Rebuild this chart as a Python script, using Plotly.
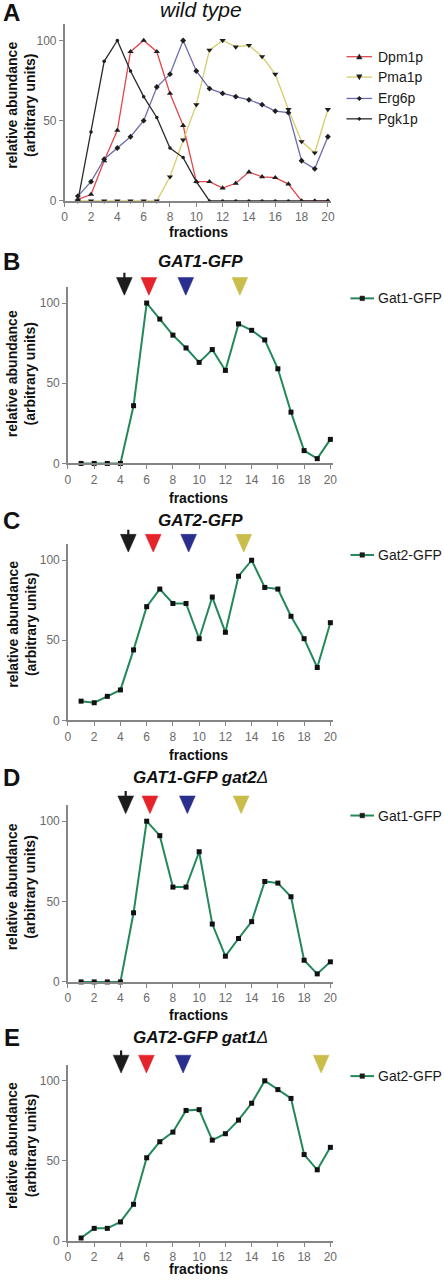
import plotly.graph_objects as go

W, H = 444, 1284

# ---------------- data ----------------
fractions = list(range(1, 21))

# panel A (wild type)
dpm1p = [1, 4, 25, 44, 93, 100, 93, 67, 47, 12, 12, 8, 11, 18, 15, 14.5, 10.5, 0, 0, 0]
pma1p = [0, 0, 0, 0, 0, 0, 0, 15, 38, 60, 94, 100, 96, 97, 90, 79, 57, 37, 30, 57]
erg6p = [3, 12, 26, 33, 40, 50, 71, 79, 100, 81, 70, 67, 65, 63, 60, 56, 55, 25, 20, 40]
pgk1p = [0, 43, 87, 100, 81, 65, 52, 33, 27, 12, 0, 0, 0, 0, 0, 0, 0, 0, 0, 0]

# panels B-E
gat1_gfp = [0, 0, 0, 0, 36, 100, 90, 80, 72, 63, 71, 58, 87, 83, 77, 59, 32, 8, 3, 15]
gat2_gfp = [12, 11, 15, 19, 44, 71, 82, 73, 73, 51, 77, 55, 90, 100, 83, 82, 65, 51, 33, 61]
gat1_gfp_gat2d = [0, 0, 0, 0, 43, 100, 91, 59, 59, 81, 36, 16, 27, 37.5, 62.5, 61.5, 53, 13.5, 5, 12.5]
gat2_gfp_gat1d = [2, 8, 8, 12, 23, 52, 62, 68, 81.5, 82, 63, 67, 75.5, 86, 100, 94.5, 89, 54, 44.5, 58.5]

# marker-protein peak arrows (fraction positions): Pgk1p, Dpm1p, Erg6p, Pma1p
arrow_names = ["Pgk1p", "Dpm1p", "Erg6p", "Pma1p"]
arrows_B = [4.3, 6.17, 8.98, 13.1]
arrows_C = [4.6, 6.5, 9.2, 13.4]
arrows_D = [4.4, 6.25, 9.1, 13.2]
arrows_E = [4.05, 5.98, 8.78, 19.3]

x_ticks = list(range(0, 21, 2))
y_ticks = [0, 50, 100]

# ---------------- style ----------------
FONT = "Liberation Sans, Arial, sans-serif"
AXC = "#858585"
TICKC = "#6a6a6a"
GREEN = "#23885a"
arrow_colors = ["#1c1c1c", "#e5232a", "#2a2e8c", "#c9bd4c"]


def py(p):
    return (H - p) / H


def px(p):
    return p / W


fig = go.Figure()

panels = [
    dict(name="A", x0=62.7, xu=13.37, y0=202.0, yu=1.613),
    dict(name="B", x0=66.0, xu=13.33, y0=466.0, yu=1.613),
    dict(name="C", x0=66.0, xu=13.33, y0=724.3, yu=1.610),
    dict(name="D", x0=66.0, xu=13.33, y0=987.3, yu=1.616),
    dict(name="E", x0=66.0, xu=13.33, y0=1248.0, yu=1.613),
]
XMAX, YMAX = 20.2, 110

layout = dict(
    width=W, height=H, margin=dict(l=0, r=0, t=0, b=0),
    paper_bgcolor="white", plot_bgcolor="white",
    font=dict(family=FONT, color="#1a1a1a"),
    showlegend=False,
)

for i, p in enumerate(panels):
    n = i + 1
    xs = "" if n == 1 else str(n)
    xd = [px(p["x0"]), px(p["x0"] + XMAX * p["xu"])]
    yd = [py(p["y0"]), py(p["y0"] - YMAX * p["yu"])]
    layout["xaxis" + xs] = dict(
        domain=xd, anchor="y" + xs, range=[0, XMAX], tickvals=x_ticks,
        ticks="outside", ticklen=4, tickwidth=1.2, tickcolor=AXC,
        showline=True, linecolor=AXC, linewidth=1.5, showgrid=False, zeroline=False,
        tickfont=dict(size=12, color=TICKC, family=FONT), fixedrange=True,
    )
    layout["yaxis" + xs] = dict(
        domain=yd, anchor="x" + xs, range=[0, YMAX], tickvals=y_ticks,
        ticks="outside", ticklen=4, tickwidth=1.2, tickcolor=AXC,
        showline=True, linecolor=AXC, linewidth=1.5, showgrid=False, zeroline=False,
        tickfont=dict(size=12, color=TICKC, family=FONT), fixedrange=True,
    )

# arrow band axes (y6..y9) for panels B-E
arrow_sets = [arrows_B, arrows_C, arrows_D, arrows_E]
TRI_H, STEM, HALF = 18, 5, 0.6
for k, arr in enumerate(arrow_sets):
    p = panels[k + 1]
    n = k + 2
    an = 6 + k
    apex = p["y0"] - 169
    top = apex - (TRI_H + STEM)
    layout["yaxis%d" % an] = dict(
        domain=[py(apex), py(top)], anchor="x%d" % n, range=[0, TRI_H + STEM],
        visible=False, fixedrange=True,
    )
    for j, a in enumerate(arr):
        fig.add_trace(go.Scatter(
            x=[a - HALF, a + HALF, a, a - HALF], y=[TRI_H, TRI_H, 0, TRI_H],
            xaxis="x%d" % n, yaxis="y%d" % an, mode="lines", fill="toself",
            fillcolor=arrow_colors[j], line=dict(color=arrow_colors[j], width=0.5),
            hoverinfo="skip", name=arrow_names[j],
        ))
        if j == 0:
            fig.add_trace(go.Scatter(
                x=[a, a], y=[TRI_H - 1, TRI_H + STEM], xaxis="x%d" % n, yaxis="y%d" % an,
                mode="lines", line=dict(color=arrow_colors[j], width=2.2),
                hoverinfo="skip",
            ))

# panel A series
seriesA = [
    ("Dpm1p", dpm1p, "#e2474d", "triangle-up", 5.5),
    ("Pma1p", pma1p, "#d6cd6c", "triangle-down", 5.5),
    ("Erg6p", erg6p, "#6c6cae", "diamond", 4.5),
    ("Pgk1p", pgk1p, "#2a2a2a", "circle", 3.5),
]
for name, vals, col, sym, sz in seriesA:
    fig.add_trace(go.Scatter(
        x=fractions, y=vals, name=name, mode="lines+markers",
        line=dict(color=col, width=1.3),
        marker=dict(symbol=sym, size=sz, color="#1e1e1e"),
        xaxis="x", yaxis="y", cliponaxis=False,
    ))

seriesBE = [
    ("Gat1-GFP", gat1_gfp),
    ("Gat2-GFP", gat2_gfp),
    ("Gat1-GFP", gat1_gfp_gat2d),
    ("Gat2-GFP", gat2_gfp_gat1d),
]
for k, (name, vals) in enumerate(seriesBE):
    n = k + 2
    fig.add_trace(go.Scatter(
        x=fractions, y=vals, name=name, mode="lines+markers",
        line=dict(color=GREEN, width=2),
        marker=dict(symbol="square", size=5, color="#111111"),
        xaxis="x%d" % n, yaxis="y%d" % n, cliponaxis=False,
    ))

# ---------------- legends (drawn as shapes + text) ----------------
shapes = []
ann = []


def marker_path(sym, cx, cy, s):
    if sym == "triangle-up":
        return [(cx - s, cy + s * 0.8), (cx + s, cy + s * 0.8), (cx, cy - s)]
    if sym == "triangle-down":
        return [(cx - s, cy - s * 0.8), (cx + s, cy - s * 0.8), (cx, cy + s)]
    if sym == "square":
        return [(cx - s, cy - s), (cx + s, cy - s), (cx + s, cy + s), (cx - s, cy + s)]
    return [(cx - s, cy), (cx, cy - s), (cx + s, cy), (cx, cy + s)]


def legend_entry(label, color, sym, msize, row_y, lw, x1=349, x2=375, tx=379):
    ym = py(row_y)
    shapes.append(dict(type="line", xref="paper", yref="paper", x0=px(x1), x1=px(x2),
                       y0=ym, y1=ym, line=dict(color=color, width=lw)))
    cx = (x1 + x2) / 2
    pts = marker_path(sym, cx, row_y, msize)
    path = "M" + " L".join("%f,%f" % (px(a), py(b)) for a, b in pts) + " Z"
    shapes.append(dict(type="path", xref="paper", yref="paper", path=path,
                       fillcolor="#1e1e1e", line=dict(color="#1e1e1e", width=0.5)))
    ann.append(dict(x=px(tx), y=ym, xref="paper", yref="paper", text=label,
                    showarrow=False, xanchor="left", yanchor="middle",
                    font=dict(size=14, family=FONT, color="#1a1a1a")))


legA_rows = [57, 77.5, 99, 119.5]
msz = {"triangle-up": 2.8, "triangle-down": 2.8, "diamond": 2.3, "circle": 1.8}
for (name, vals, col, sym, sz), r in zip(seriesA, legA_rows):
    legend_entry(name, col, sym, msz[sym], r, 1.3)

legBE_rows = [300, 558, 820, 1082]
for (name, vals), r in zip(seriesBE, legBE_rows):
    legend_entry(name, GREEN, "square", 2.3, r, 2, x1=353, x2=377, tx=379)

# ---------------- annotations: letters, titles, axis titles ----------------
titles = [
    "<i>wild type</i>",
    "<b><i>GAT1-GFP</i></b>",
    "<b><i>GAT2-GFP</i></b>",
    "<b><i>GAT1-GFP gat2</i></b><i>Δ</i>",
    "<b><i>GAT2-GFP gat1</i></b><i>Δ</i>",
]
title_y = [10, 263, 523, 782, 1043]
title_size = [21, 17, 17, 17, 17]
letters = ["A", "B", "C", "D", "E"]
letter_y = [13, 263, 523, 782, 1043]
frac_y = [233, 501, 759, 1021, 1276]
ytitle_y = [106, 376, 628, 892, 1152]
for i in range(5):
    ann.append(dict(x=px(9), y=py(letter_y[i]), xref="paper", yref="paper",
                    text="<b>%s</b>" % letters[i], showarrow=False,
                    xanchor="center", yanchor="middle",
                    font=dict(size=24, family=FONT, color="#111")))
    ann.append(dict(x=px(201), y=py(title_y[i]), xref="paper", yref="paper",
                    text=titles[i], showarrow=False, xanchor="center", yanchor="middle",
                    font=dict(size=title_size[i], family=FONT, color="#111")))
    ann.append(dict(x=px(199), y=py(frac_y[i]), xref="paper", yref="paper",
                    text="<b>fractions</b>", showarrow=False, xanchor="center", yanchor="middle",
                    font=dict(size=14, family=FONT, color="#111")))
    ann.append(dict(x=px(18.5), y=py(ytitle_y[i]), xref="paper", yref="paper",
                    text="<b>relative abundance<br>(arbitrary units)</b>", showarrow=False,
                    xanchor="center", yanchor="middle",
                    textangle=-90, font=dict(size=14, family=FONT, color="#111")))

layout["shapes"] = shapes
layout["annotations"] = ann
fig.update_layout(**layout)

fig.write_html("out.html", config={"displayModeBar": False},
               post_script="document.body.style.margin='0px';")
